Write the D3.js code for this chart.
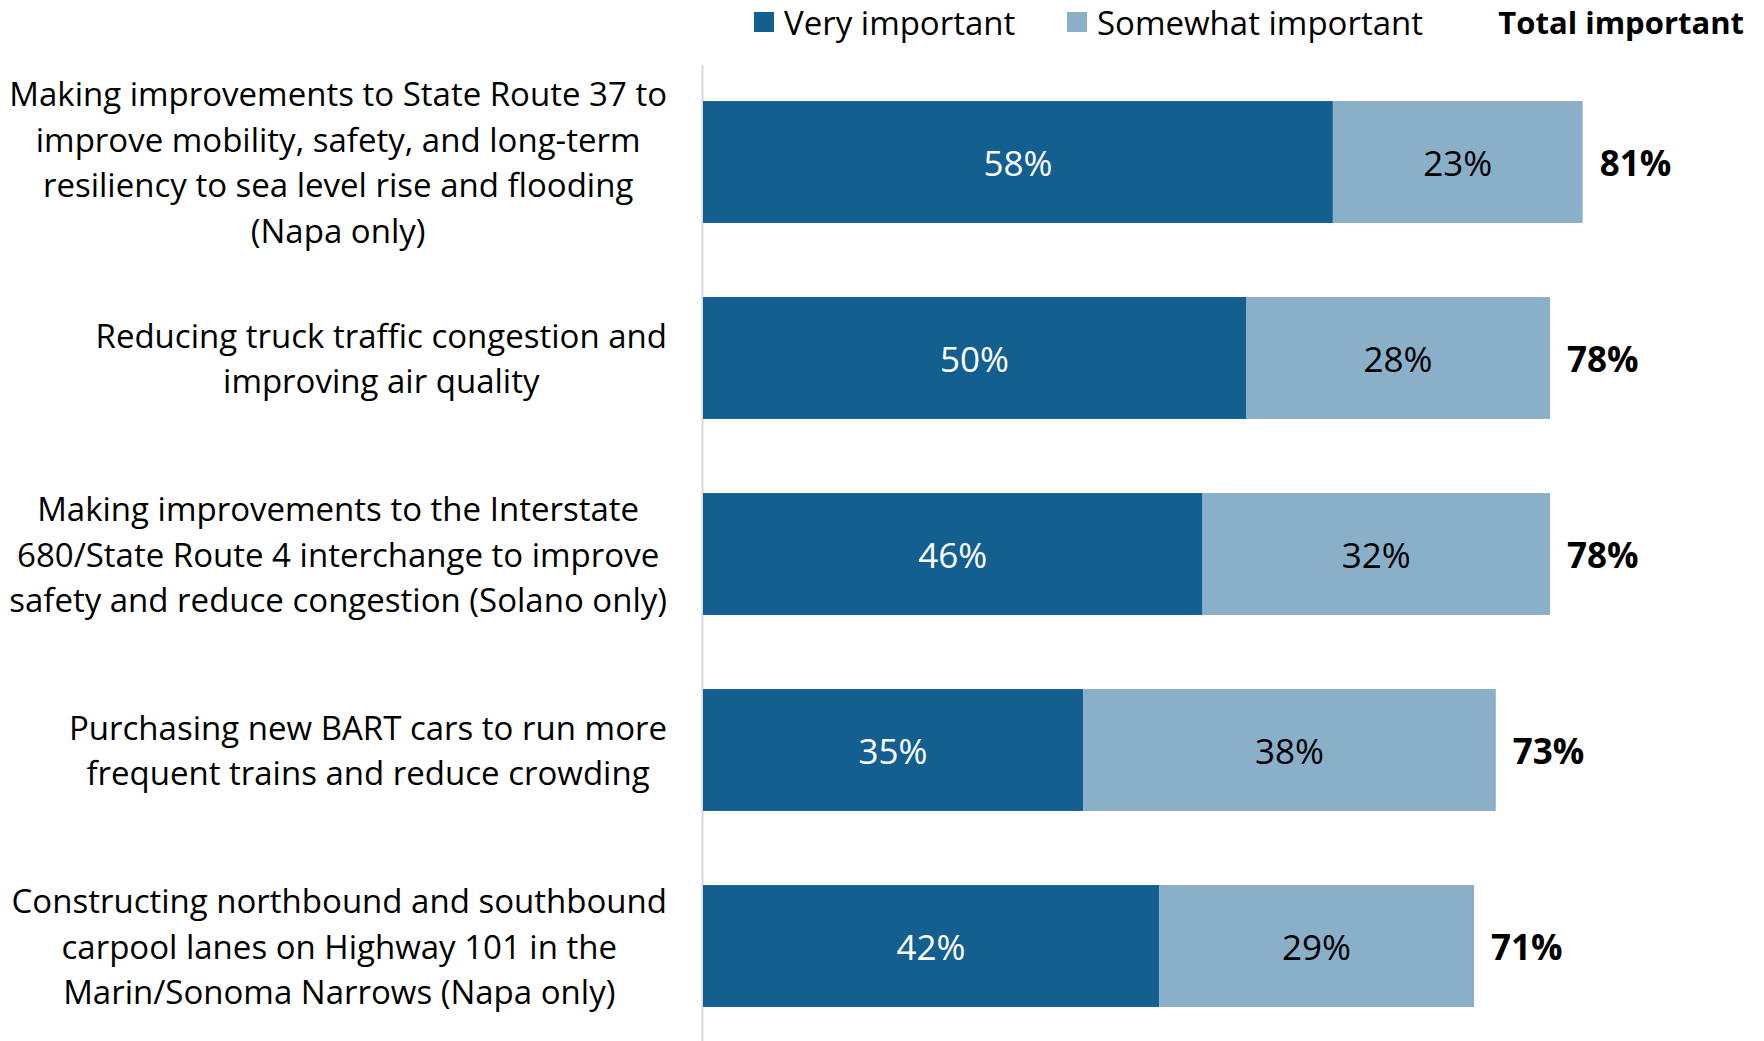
<!DOCTYPE html>
<html><head><meta charset="utf-8">
<script src="https://cdn.jsdelivr.net/npm/d3@7"></script>
<style>
html,body{margin:0;padding:0;background:#fff;}
svg{display:block;}
text{font-family:"Open Sans","Noto Sans",sans-serif;}
</style></head>
<body>
<svg id="chart" width="1764" height="1041"></svg>
<script>
const categories = [
  ["Making improvements to State Route 37 to","improve mobility, safety, and long-term","resiliency to sea level rise and flooding","(Napa only)"],
  ["Reducing truck traffic congestion and","improving air quality"],
  ["Making improvements to the Interstate","680/State Route 4 interchange to improve","safety and reduce congestion (Solano only)"],
  ["Purchasing new BART cars to run more","frequent trains and reduce crowding"],
  ["Constructing northbound and southbound","carpool lanes on Highway 101 in the","Marin/Sonoma Narrows (Napa only)"]
];
const veryImportant = [58, 50, 46, 35, 42];
const somewhatImportant = [23, 28, 32, 38, 29];
const totalImportant = [81, 78, 78, 73, 71];
const seriesNames = ["Very important", "Somewhat important"];
const totalHeader = "Total important";

const colors = {very:"#135F90", somewhat:"#89AFC9", axis:"#D9D9D9"};
const labelSize = 33, valueSize = 35, headerSize = 31;
const svg = d3.select("#chart");
const W = 1764, H = 1041;
const x0 = 703;
const x = d3.scaleLinear().domain([0, 100]).range([x0, x0 + 1086]);
const ids = categories.map((c, i) => i);
const y = d3.scaleBand().domain(ids).range([64, 1044]).paddingInner(0.378).paddingOuter(0.189);

svg.append("line").attr("x1", x0 - 0.5).attr("x2", x0 - 0.5).attr("y1", 65).attr("y2", H)
  .attr("stroke", colors.axis).attr("stroke-width", 2);

const rows = ids.map(i => ({i, v: veryImportant[i], s: somewhatImportant[i], t: totalImportant[i]}));

const g = svg.append("g");
g.selectAll("rect.very").data(rows).join("rect").attr("class","very")
  .attr("x", x(0)).attr("y", d => y(d.i)).attr("width", d => x(d.v) - x(0)).attr("height", y.bandwidth())
  .attr("fill", colors.very);
g.selectAll("rect.some").data(rows).join("rect").attr("class","some")
  .attr("x", d => x(d.v)).attr("y", d => y(d.i)).attr("width", d => x(d.v + d.s) - x(d.v)).attr("height", y.bandwidth())
  .attr("fill", colors.somewhat);

g.selectAll("text.vl").data(rows).join("text").attr("class","vl")
  .attr("x", d => (x(0) + x(d.v)) / 2).attr("y", d => y(d.i) + y.bandwidth()/2)
  .attr("text-anchor","middle").attr("dominant-baseline","central")
  .attr("font-size", valueSize).attr("fill","#fff").text(d => d.v + "%");
g.selectAll("text.sl").data(rows).join("text").attr("class","sl")
  .attr("x", d => (x(d.v) + x(d.v + d.s)) / 2).attr("y", d => y(d.i) + y.bandwidth()/2)
  .attr("text-anchor","middle").attr("dominant-baseline","central")
  .attr("font-size", valueSize).attr("fill","#000").text(d => d.s + "%");
g.selectAll("text.tl").data(rows).join("text").attr("class","tl")
  .attr("x", d => x(d.v + d.s) + 17).attr("y", d => y(d.i) + y.bandwidth()/2)
  .attr("dominant-baseline","central").attr("font-weight","bold")
  .attr("font-size", valueSize).attr("fill","#000").text(d => d.t + "%");

const labelRight = 667;
const lineH = 45.8;
rows.forEach(d => {
  const lines = categories[d.i];
  const cy = y(d.i) + y.bandwidth()/2;
  const grp = svg.append("g");
  const texts = lines.map((ln, k) => grp.append("text")
    .attr("y", cy + (k - (lines.length - 1)/2) * lineH)
    .attr("dominant-baseline","central").attr("text-anchor","middle")
    .attr("font-size", labelSize).attr("fill","#000").text(ln));
  const maxW = d3.max(texts, t => t.node().getComputedTextLength());
  texts.forEach(t => t.attr("x", labelRight - maxW/2));
});

const legY = 22;
const leg = svg.append("g");
leg.append("rect").attr("x", 754).attr("y", legY - 10).attr("width", 20).attr("height", 20).attr("fill", colors.very);
leg.append("text").attr("x", 784).attr("y", legY).attr("dominant-baseline","central")
  .attr("font-size", labelSize).text(seriesNames[0]);
leg.append("rect").attr("x", 1067).attr("y", legY - 10).attr("width", 20).attr("height", 20).attr("fill", colors.somewhat);
leg.append("text").attr("x", 1097).attr("y", legY).attr("dominant-baseline","central")
  .attr("font-size", labelSize).text(seriesNames[1]);
leg.append("text").attr("x", 1744).attr("y", legY).attr("dominant-baseline","central").attr("text-anchor","end")
  .attr("font-size", headerSize).attr("font-weight","bold").text(totalHeader);
</script>
</body></html>
